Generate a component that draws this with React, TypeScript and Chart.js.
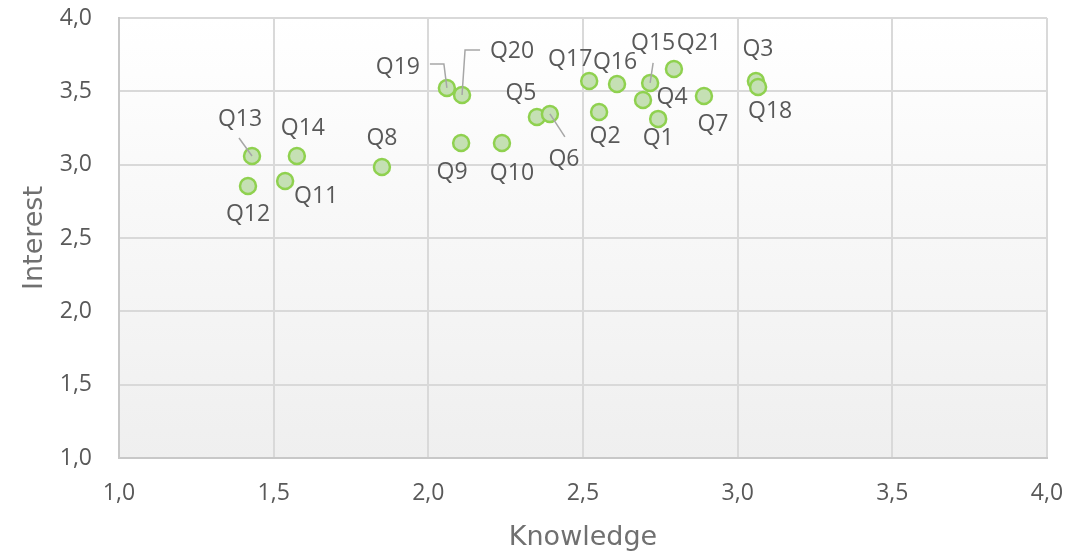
import React, { useEffect, useRef } from "react";
import { Chart, registerables } from "chart.js";

Chart.register(...registerables);

const questionLabels = ["Q1","Q2","Q3","Q4","Q5","Q6","Q7","Q8","Q9","Q10","Q11","Q12","Q13","Q14","Q15","Q16","Q17","Q18","Q19","Q20","Q21"];
const knowledgeValues = [2.743,2.552,3.059,2.694,2.351,2.393,2.891,1.850,2.106,2.238,1.537,1.417,1.430,1.575,2.717,2.610,2.520,3.066,2.060,2.109,2.794];
const interestValues = [3.312,3.359,3.571,3.441,3.325,3.346,3.468,2.984,3.148,3.148,2.889,2.855,3.059,3.059,3.557,3.550,3.571,3.530,3.523,3.475,3.652];
const axisTicks = [1.0,1.5,2.0,2.5,3.0,3.5,4.0];

// label offsets in pixels relative to each point (style only)
const labelOffsets: [number, number][] = [
  [0, 20],[6, 24],[2, -31],[29, -3],[-16, -24],[14, 46],[9, 28],[0, -29],[-9, 29],[10, 30],
  [31, 16],[0, 29],[-12, -37],[6, -28],[3, -40],[-2, -22],[-19, -21],[12, 25],[-49, -21],[50, -44],[25, -26],
];
// leader lines: list of pixel offsets from point
const leaderLines: Record<number, [number, number][]> = {
  12: [[0, 0], [-13, -18]],
  5: [[0, 0], [15, 23]],
  14: [[0, 0], [3, -20]],
  18: [[0, 0], [-3, -24], [-17, -24]],
  19: [[0, 0], [3, -45], [18, -45]],
};

const fmt = (v: number) => v.toFixed(1).replace(".", ",");

const bgPlugin = {
  id: "bgGradient",
  beforeDraw(chart: any) {
    const { ctx, chartArea } = chart;
    const g = ctx.createLinearGradient(0, chartArea.top, 0, chartArea.bottom);
    g.addColorStop(0, "#ffffff");
    g.addColorStop(1, "#efefef");
    ctx.save();
    ctx.fillStyle = g;
    ctx.fillRect(chartArea.left, chartArea.top, chartArea.right - chartArea.left, chartArea.bottom - chartArea.top);
    ctx.restore();
  },
};

const labelPlugin = {
  id: "pointLabels",
  afterDatasetsDraw(chart: any) {
    const { ctx } = chart;
    const meta = chart.getDatasetMeta(0);
    ctx.save();
    ctx.strokeStyle = "#a6a6a6";
    ctx.lineWidth = 1.5;
    Object.keys(leaderLines).forEach((k) => {
      const i = Number(k);
      const p = meta.data[i];
      const pts = leaderLines[i];
      ctx.beginPath();
      pts.forEach(([dx, dy], j) => {
        if (j === 0) ctx.moveTo(p.x + dx, p.y + dy);
        else ctx.lineTo(p.x + dx, p.y + dy);
      });
      ctx.stroke();
    });
    ctx.fillStyle = "#595959";
    ctx.font = "23px 'Open Sans'";
    ctx.textAlign = "center";
    ctx.textBaseline = "middle";
    meta.data.forEach((p: any, i: number) => {
      const [dx, dy] = labelOffsets[i];
      ctx.fillText(questionLabels[i], p.x + dx, p.y + dy);
    });
    ctx.restore();
  },
};

export default function App() {
  const ref = useRef<HTMLCanvasElement>(null);
  useEffect(() => {
    document.body.style.margin = "0";
    const data = knowledgeValues.map((x, i) => ({ x, y: interestValues[i] }));
    const chart = new Chart(ref.current!, {
      type: "scatter",
      data: {
        labels: questionLabels,
        datasets: [
          {
            data,
            pointRadius: 8,
            pointBackgroundColor: "#c5e0b4",
            pointBorderColor: "#8fd14f",
            pointBorderWidth: 2.5,
          },
        ],
      },
      options: {
        animation: false,
        responsive: false,
        maintainAspectRatio: false,
        layout: { padding: { top: 18, right: 29, left: 0, bottom: 0 } },
        plugins: { legend: { display: false }, tooltip: { enabled: false } },
        scales: {
          x: {
            type: "linear",
            min: 1,
            max: 4,
            afterBuildTicks: (s: any) => { s.ticks = axisTicks.map((v) => ({ value: v })); },
            afterFit: (s: any) => { s.height = 99; s.paddingLeft = 0; s.paddingRight = 0; },
            grid: { color: "#d9d9d9", lineWidth: 2, drawTicks: false },
            border: { color: "#c8c8c8", width: 2 },
            ticks: { color: "#595959", font: { family: "'Open Sans'", size: 23 }, padding: 22, callback: (v: any) => fmt(Number(v)) },
            title: { display: true, text: "Knowledge", color: "#707070", font: { family: "'DejaVu Sans'", size: 27, weight: "normal" }, padding: { top: 0, bottom: 3 } },
          },
          y: {
            type: "linear",
            min: 1,
            max: 4,
            afterBuildTicks: (s: any) => { s.ticks = axisTicks.map((v) => ({ value: v })); },
            afterFit: (s: any) => { s.width = 119; s.paddingTop = 0; s.paddingBottom = 0; },
            grid: { color: "#d9d9d9", lineWidth: 2, drawTicks: false },
            border: { color: "#c8c8c8", width: 2 },
            ticks: { color: "#595959", font: { family: "'Open Sans'", size: 23 }, padding: 27, callback: (v: any) => fmt(Number(v)) },
            title: { display: true, text: "Interest", color: "#707070", font: { family: "'DejaVu Sans'", size: 27, weight: "normal" }, padding: { top: 19, bottom: 0 } },
          },
        },
      },
      plugins: [bgPlugin, labelPlugin],
    });
    return () => chart.destroy();
  }, []);
  return (
    <div style={{ position: "absolute", left: 0, top: 0, width: 1076, height: 557 }}>
      <canvas ref={ref} width={1076} height={557} style={{ width: 1076, height: 557 }} />
    </div>
  );
}
